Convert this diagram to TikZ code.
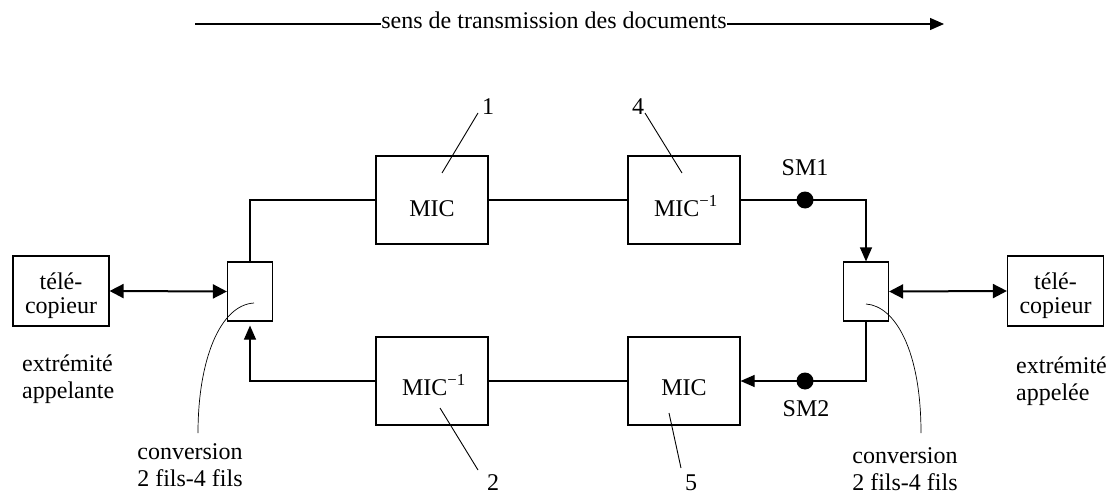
\documentclass[tikz,border=0pt]{standalone}
\usepackage{fontspec}
\setmainfont{Liberation Serif}
\usetikzlibrary{arrows.meta}
\begin{document}
\begin{tikzpicture}[x=1pt,y=-1pt,
  font=\fontsize{24}{27}\selectfont,
  ln/.style={line width=1.15pt},
  tri/.style={-{Triangle[length=14pt,width=12pt]}},
  dbl/.style={line width=2pt,{Triangle[length=14pt,width=14pt]}-{Triangle[length=14pt,width=14pt]}},
  bigbox/.style={draw,line width=1.15pt,inner sep=0pt,minimum width=112pt,minimum height=88pt},
  convbox/.style={draw,line width=1.15pt,inner sep=0pt,minimum width=45pt,minimum height=59pt},
  faxbox/.style={draw,line width=1.15pt,inner sep=0pt,minimum width=96pt,minimum height=70pt},
  txt/.style={inner sep=0pt},
  faxtxt/.style={inner sep=0pt,align=center,font=\fontsize{24}{24}\selectfont},
  leader/.style={line width=0.9pt},
  curve/.style={line width=0.7pt},
  smdot/.style={circle,fill=black,inner sep=0pt,minimum size=17pt}
]
\useasboundingbox (0,0) rectangle (1109,495);

% top direction arrow
\coordinate (ta) at (195,24);
\coordinate (tb) at (944,24);
\node[txt,anchor=base] (tt) at (554,29) {sens de transmission des documents};
\draw[line width=1.3pt] (ta) -- (ta -| tt.west);
\draw[line width=1.3pt,tri] (tt.east |- tb) -- (tb);

% boxes
\node[bigbox] (mic1) at (432,200) {};
\node[bigbox] (mi4) at (684,200) {};
\node[bigbox] (mi2) at (432,381) {};
\node[bigbox] (mic5) at (684,381) {};
\node[convbox] (cl) at (250,291.5) {};
\node[convbox] (cr) at (866,291.5) {};
\node[faxbox] (faxl) at (61,291) {};
\node[faxbox] (faxr) at (1055.5,291) {};
\node[faxtxt] (faxlt) at (61,296) {télé-\\copieur};
\node[faxtxt] (faxrt) at (1055.5,296) {télé-\\copieur};

% box texts
\node[txt,anchor=base] (t1) at (432,216) {MIC};
\node[txt,anchor=base] (t4) at (686,216) {MIC\textsuperscript{−1}};
\node[txt,anchor=base] (t2) at (434,395) {MIC\textsuperscript{−1}};
\node[txt,anchor=base] (t5) at (684,395) {MIC};

% connections
\draw[ln] (cl.north) -- (cl.north |- mic1.west) -- (mic1.west);
\draw[ln] (mic1.east) -- (mi4.west);
\draw[ln,tri] (mi4.east) -- (cr.north |- mi4.east) -- (cr.north);
\draw[ln,tri] (cr.south) -- (cr.south |- mic5.east) -- (mic5.east);
\draw[ln] (mic5.west) -- (mi2.east);
\draw[ln,tri,shorten >=4pt] (mi2.west) -- (cl.south |- mi2.west) -- (cl.south);
\draw[dbl] (faxl.east) -- (cl.west);
\draw[dbl] (cr.east) -- (faxr.west);

% SM points
\node[smdot] (sm1) at (805,200) {};
\node[smdot] (sm2) at (805,381) {};
\node[txt] (sm1t) at (805,168) {SM1};
\node[txt] (sm2t) at (806,409) {SM2};

% numbered labels
\node[txt] (n1) at (488,107) {1};
\node[txt] (n4) at (638,107) {4};
\node[txt] (n2) at (493,483) {2};
\node[txt] (n5) at (691,483) {5};
\coordinate (l1a) at (478,113); \coordinate (l1b) at (442,173);
\coordinate (l4a) at (645,113); \coordinate (l4b) at (682,173);
\coordinate (l2a) at (440,408); \coordinate (l2b) at (478,470);
\coordinate (l5a) at (669,413); \coordinate (l5b) at (681,468);
\draw[leader] (l1a) -- (l1b);
\draw[leader] (l4a) -- (l4b);
\draw[leader] (l2a) -- (l2b);
\draw[leader] (l5a) -- (l5b);

% extremities
\node[txt,align=left,anchor=west] (extl) at (22,379) {extrémité\\appelante};
\node[txt,align=left,anchor=west] (extr) at (1016,381) {extrémité\\appelée};

% conversion labels with curves
\node[txt,align=center] (convl) at (190,465) {conversion\\2 fils-4 fils};
\node[txt,align=center] (convr) at (905,469) {conversion\\2 fils-4 fils};
\coordinate (cva) at (198,433); \coordinate (cvb) at (254,303);
\coordinate (cvc) at (866,304); \coordinate (cvd) at (921,433);
\draw[curve] (cva) .. controls (198,360) and (220,305) .. (cvb);
\draw[curve] (cvc) .. controls (895,306) and (921,350) .. (cvd);
\end{tikzpicture}
\end{document}
